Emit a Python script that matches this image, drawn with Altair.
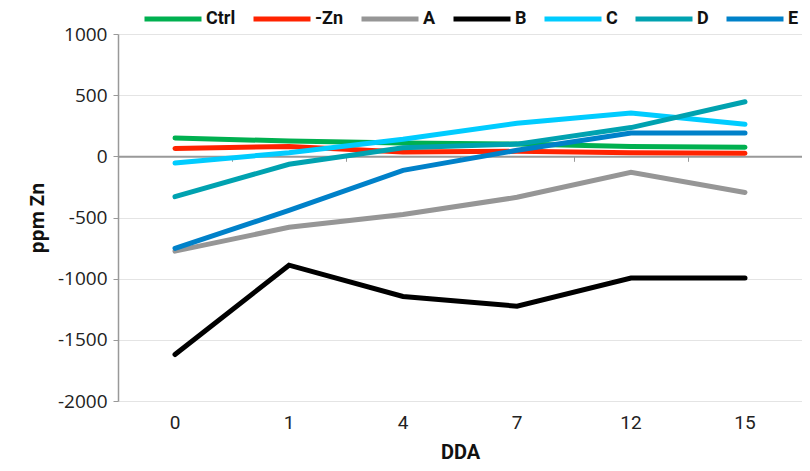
import altair as alt
import pandas as pd

days = ["0", "1", "4", "7", "12", "15"]
series = ["Ctrl", "-Zn", "A", "B", "C", "D", "E"]
colors = ["#00B050", "#FF2300", "#969696", "#000000", "#00CCFF", "#00A2B0", "#0081C9"]

ctrl = [150, 125, 109, 100, 80, 75]
minus_zn = [65, 80, 35, 41, 30, 25]
a_vals = [-775, -580, -475, -335, -130, -295]
b_vals = [-1620, -890, -1145, -1225, -995, -995]
c_vals = [-55, 30, 139, 270, 355, 262]
d_vals = [-330, -65, 70, 100, 235, 446]
e_vals = [-752, -442, -115, 49, 190, 190]

vals = [ctrl, minus_zn, a_vals, b_vals, c_vals, d_vals, e_vals]
rows = []
for s, v in zip(series, vals):
    for d, y in zip(days, v):
        rows.append({"DDA": d, "series": s, "ppm": y})
df = pd.DataFrame(rows)

cond_font = "Roboto"
xscale = alt.Scale(type="band", domain=days, paddingInner=0, paddingOuter=0)
yscale = alt.Scale(domain=[-2000, 1000], nice=False)

lines = alt.Chart(df).mark_line(strokeWidth=5, strokeCap="round", strokeJoin="miter").encode(
    x=alt.X("DDA:N", scale=xscale, bandPosition=0.5, sort=days,
            axis=alt.Axis(orient="bottom", domain=False, ticks=False, grid=False,
                          labelAngle=0, labelFont=cond_font, labelFontSize=19,
                          labelColor="#222222", labelPadding=12,
                          title="DDA", titleFont=cond_font, titleFontSize=20,
                          titleFontWeight="bold", titleColor="#111111", titlePadding=10)),
    y=alt.Y("ppm:Q", scale=yscale,
            axis=alt.Axis(values=[-2000, -1500, -1000, -500, 0, 500, 1000],
                          labelExpr="'' + datum.value",
                          domainColor="#999999", domainWidth=1.5, tickColor="#999999",
                          tickSize=5, gridColor="#e4e4e4", gridWidth=1.2,
                          labelFont="Open Sans", labelFontSize=19, labelColor="#222222",
                          labelPadding=6, title="ppm Zn", titleFont="Open Sans",
                          titleFontSize=19, titleFontWeight="bold", titleColor="#111111",
                          titlePadding=10)),
    color=alt.Color("series:N", scale=alt.Scale(domain=series, range=colors),
                    legend=alt.Legend(orient="none", legendX=24, legendY=-46,
                                      direction="horizontal", title=None,
                                      symbolType="stroke", symbolSize=3249,
                                      symbolStrokeWidth=5, labelFont=cond_font,
                                      labelFontSize=18, labelFontWeight="bold",
                                      labelColor="#111111", labelOffset=2,
                                      columnPadding=7, symbolOffset=0)),
)

zero_axis = alt.Chart(df).mark_point(opacity=0).encode(
    x=alt.X("DDA:N", scale=xscale, sort=days,
            axis=alt.Axis(orient="bottom", offset=-244.7, labels=False, title=None,
                          grid=False, domainColor="#999999", domainWidth=2,
                          tickColor="#999999", tickSize=5, tickBand="extent")),
    y=alt.Y("ppm:Q", scale=yscale),
)

chart = alt.layer(zero_axis, lines).resolve_axis(x="independent").properties(
    width=684, height=367,
    autosize=alt.AutoSizeParams(type="none"),
    padding={"left": 110, "top": 26, "right": 0, "bottom": 62},
).configure_view(stroke=None)

chart.save("out.html", embed_options={"renderer": "svg", "actions": False})
